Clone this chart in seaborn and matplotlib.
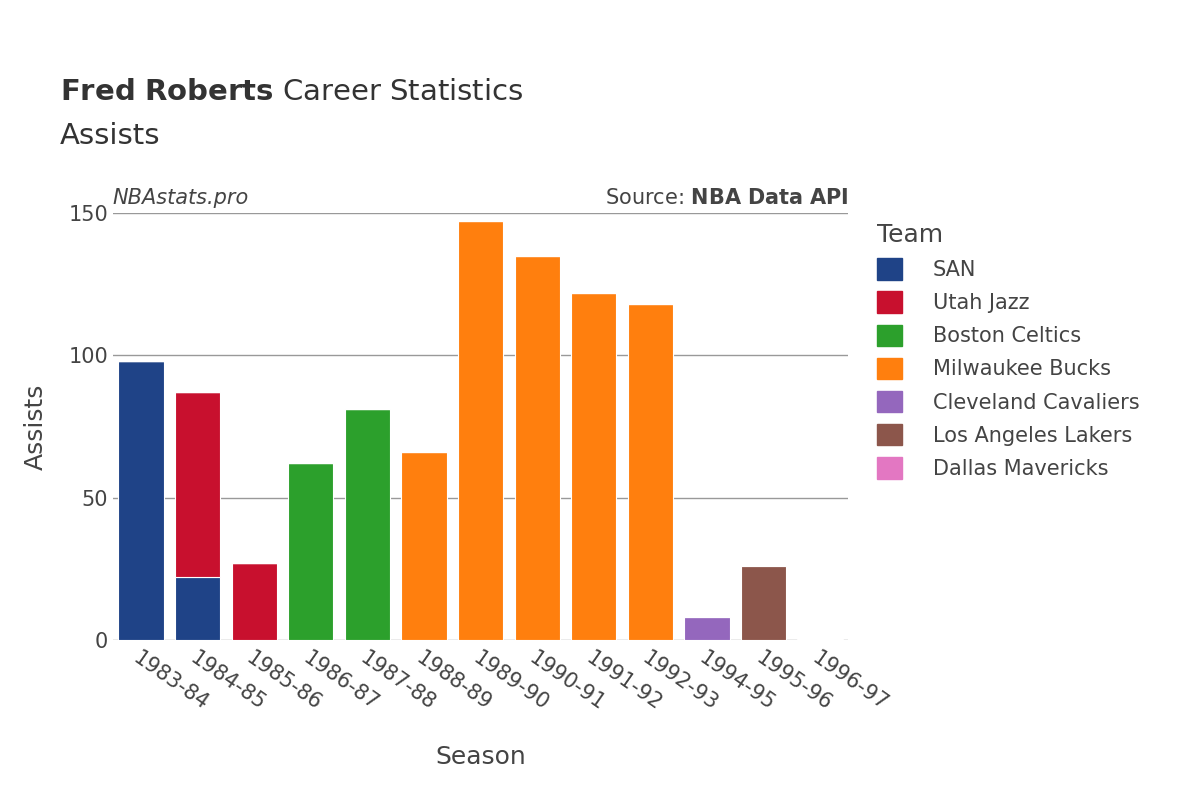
import matplotlib
matplotlib.use("Agg")
import matplotlib.pyplot as plt
import seaborn as sns
import pandas as pd
import numpy as np

seasons = ["1983-84","1984-85","1985-86","1986-87","1987-88","1988-89","1989-90",
           "1990-91","1991-92","1992-93","1994-95","1995-96","1996-97"]
teams = ["SAN","Utah Jazz","Boston Celtics","Milwaukee Bucks","Cleveland Cavaliers",
         "Los Angeles Lakers","Dallas Mavericks"]
colors = ["#1f4387","#c8102e","#2ca02c","#ff7f0e","#9467bd","#8c564b","#e377c2"]
row_season = ["1983-84","1984-85","1984-85","1985-86","1986-87","1987-88","1988-89",
              "1989-90","1990-91","1991-92","1992-93","1994-95","1995-96","1996-97"]
row_team = ["SAN","SAN","Utah Jazz","Utah Jazz","Boston Celtics","Boston Celtics",
            "Milwaukee Bucks","Milwaukee Bucks","Milwaukee Bucks","Milwaukee Bucks",
            "Milwaukee Bucks","Cleveland Cavaliers","Los Angeles Lakers","Dallas Mavericks"]
row_ast = [98,22,65,27,62,81,66,147,135,122,118,8,26,0.5]

df = pd.DataFrame({"Season":row_season,"Team":row_team,"Assists":row_ast})

fig = plt.figure(figsize=(12,8), dpi=100)
ax = fig.add_axes([0.094, 0.2, 0.613, 0.534])
bottom = np.zeros(len(seasons))
for t, c in zip(teams, colors):
    vals = np.array([df[(df.Season==s)&(df.Team==t)].Assists.sum() for s in seasons], float)
    sns.barplot(x=seasons, y=vals, bottom=bottom, color=c, ax=ax, width=0.8,
                order=seasons, saturation=1, legend=False,
                edgecolor="white", linewidth=0.8)
    bottom += vals

ax.set_ylim(0, 150)
ax.set_xlim(-0.5, len(seasons)-0.5)
ax.set_yticks([0,50,100,150])
ax.grid(axis="y", color="#999999", linewidth=1)
ax.set_axisbelow(True)
for s in ax.spines.values():
    s.set_visible(False)
ax.tick_params(axis="y", length=0, labelsize=15, colors="#444444")
ax.tick_params(axis="x", length=0, labelsize=15, colors="#444444", pad=6)
plt.setp(ax.get_xticklabels(), rotation=-35, ha="left", rotation_mode="anchor")
ax.set_xlabel("Season", fontsize=18, color="#444444", labelpad=22)
ax.set_ylabel("Assists", fontsize=18, color="#444444", labelpad=15)

fig.text(0.05, 0.875, r"$\bf{Fred\ Roberts}$ Career Statistics", fontsize=21, color="#333333")
fig.text(0.05, 0.82, "Assists", fontsize=21, color="#333333")
ax.text(0.0, 1.02, "NBAstats.pro", transform=ax.transAxes, fontsize=15,
        style="italic", color="#444444")
ax.text(1.0, 1.02, r"Source: $\bf{NBA\ Data\ API}$", transform=ax.transAxes,
        fontsize=15, color="#444444", ha="right")

handles = [plt.Rectangle((0,0),1,1,color=c) for c in colors]
leg = fig.legend(handles, teams, loc="upper left", bbox_to_anchor=(0.715, 0.745),
                 frameon=False, fontsize=15, title="Team", title_fontsize=18,
                 labelcolor="#444444", handlelength=1.2, handleheight=1.2,
                 labelspacing=0.55, handletextpad=1.5)
leg._legend_box.align = "left"
leg.get_title().set_color("#444444")
fig.savefig("out.png", dpi=100)
